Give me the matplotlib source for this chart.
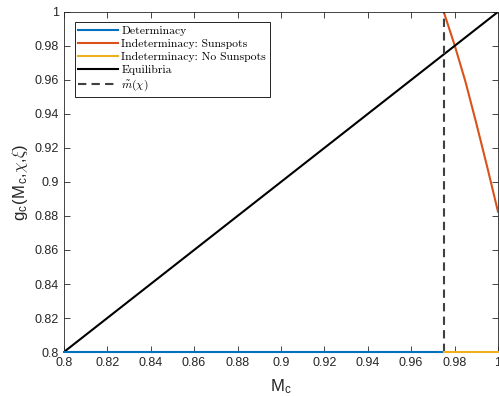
import numpy as np
import matplotlib
matplotlib.use('Agg')
import matplotlib.pyplot as plt

plt.rcParams['font.family'] = ['Liberation Sans', 'DejaVu Sans']
plt.rcParams['mathtext.fontset'] = 'cm'

# data
m_tilde = 0.975
det_x = [0.8, 0.975]
det_y = [0.8, 0.8]
nosun_x = [0.975, 1.0]
nosun_y = [0.8, 0.8]
sun_x = [0.975, 0.98, 0.985, 0.99, 0.995, 1.0]
sun_y = [1.0, 0.9805, 0.959, 0.9345, 0.909, 0.8825]
eq_x = [0.8, 1.0]
eq_y = [0.8, 1.0]
ticks = [0.8, 0.82, 0.84, 0.86, 0.88, 0.9, 0.92, 0.94, 0.96, 0.98, 1.0]
tick_labels = ['0.8', '0.82', '0.84', '0.86', '0.88', '0.9', '0.92', '0.94', '0.96', '0.98', '1']

fig = plt.figure(figsize=(4.99, 3.96), dpi=100)
ax = fig.add_axes([0.128, 0.111, 0.870, 0.859])

ax.plot(det_x, det_y, color='#0072BD', lw=1.5, label='Determinacy', clip_on=False, zorder=5)
ax.plot(sun_x, sun_y, color='#D95319', lw=1.5, label='Indeterminacy: Sunspots')
ax.plot(nosun_x, nosun_y, color='#EDB120', lw=1.5, label='Indeterminacy: No Sunspots', clip_on=False, zorder=5)
ax.plot(eq_x, eq_y, color='black', lw=1.5, label='Equilibria')
ax.axvline(m_tilde, color='#404040', lw=1.5, ls=(0, (4, 2.5)), label=r'$\tilde{m}(\chi)$')

ax.set_xlim(0.8, 1.0)
ax.set_ylim(0.8, 1.0)
ax.set_xticks(ticks)
ax.set_xticklabels(tick_labels)
ax.set_yticks(ticks)
ax.set_yticklabels(tick_labels)
ax.tick_params(direction='in', top=True, right=True, labelsize=9, length=4, width=0.6, colors='#262626')
for s in ax.spines.values():
    s.set_linewidth(0.6)
    s.set_color('#262626')

ax.set_xlabel(r'M$_\mathregular{c}$', fontsize=12, color='#262626', labelpad=6)
ax.set_ylabel(r'g$_\mathregular{c}$(M$_\mathregular{c}$,$\chi$,$\xi$)', fontsize=12, color='#262626', labelpad=3)

leg = ax.legend(loc='upper left', prop={'family': 'cmr10', 'size': 8.4}, fancybox=False,
                edgecolor='black', framealpha=1, handlelength=3.4, handletextpad=0.3,
                labelspacing=0.25, borderpad=0.3, borderaxespad=0, bbox_to_anchor=(0.025, 0.97))
leg.get_frame().set_linewidth(0.6)

fig.savefig('out.png', dpi=100)
